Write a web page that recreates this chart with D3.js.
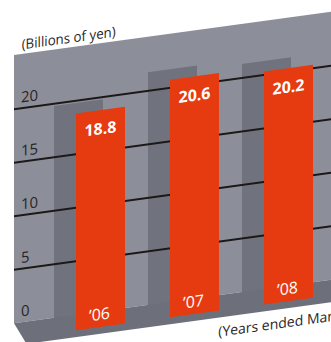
<!DOCTYPE html>
<html>
<head>
<meta charset="utf-8">
<script src="https://cdn.jsdelivr.net/npm/d3@7"></script>
<style>
  html, body { margin: 0; padding: 0; background: #fff; }
  svg { display: block; }
  text { font-family: "Open Sans", "Noto Sans", sans-serif; }
</style>
</head>
<body>
<script>
// Net sales by fiscal year
const years = ["\u201906", "\u201907", "\u201908"];
const sales = [18.8, 20.6, 20.2];
const gridTicks = [0, 5, 10, 15, 20];
const unitLabel = "(Billions of yen)";
const periodLabel = "(Years ended March 31)";

const W = 331, H = 342;

// The whole chart sits on a sheared plane rising to the right
const slope = 0.137;
const skewDeg = -Math.atan(slope) * 180 / Math.PI;

const colors = {
  wall: "#8c8f9a",
  shadow: "#70737e",
  floor: "#6d707b",
  bar: "#e63b10",
  grid: "#1c1818",
  text: "#2a2525"
};

const svg = d3.select("body").append("svg")
  .attr("width", W)
  .attr("height", H);

const g = svg.append("g").attr("transform", `skewY(${skewDeg})`);

// Back wall scale (gridlines) and front scale (bars, drawn nearer the viewer)
const wallLeft = 14, wallTop = 57, wallBase = 325.2;
const yWall = d3.scaleLinear().domain([0, 20]).range([wallBase, 111.2]);
const frontBase = 340.6;
const yFront = d3.scaleLinear().domain([0, 20]).range([frontBase, frontBase - 20 * 11.53]);
const x = d3.scaleBand().domain(years).range([76, 313]).paddingInner(0.479).paddingOuter(0);
const depth = { dx: -22, dy: -10.5 };
const floorFront = 347.5;

// back wall
g.append("rect")
  .attr("x", wallLeft).attr("y", wallTop)
  .attr("width", W + 80 - wallLeft).attr("height", wallBase - wallTop)
  .attr("fill", colors.wall);

// bar shadows cast on the wall
g.selectAll("rect.shadow")
  .data(sales)
  .join("rect")
  .attr("class", "shadow")
  .attr("x", (d, i) => x(years[i]) + depth.dx)
  .attr("y", d => yFront(d) + depth.dy)
  .attr("width", x.bandwidth())
  .attr("height", d => frontBase - yFront(d))
  .attr("fill", colors.shadow);

// floor
g.append("path")
  .attr("d", d3.line()([
    [wallLeft, wallBase],
    [W + 80, wallBase],
    [W + 80, floorFront],
    [wallLeft + 12.5, floorFront]
  ]) + "Z")
  .attr("fill", colors.floor);

// gridlines
g.selectAll("line.grid")
  .data(gridTicks.filter(t => t > 0))
  .join("line")
  .attr("class", "grid")
  .attr("x1", wallLeft).attr("x2", W + 80)
  .attr("y1", d => yWall(d)).attr("y2", d => yWall(d))
  .attr("stroke", colors.grid)
  .attr("stroke-width", 2);

// tick labels
g.selectAll("text.tick")
  .data(gridTicks)
  .join("text")
  .attr("class", "tick")
  .attr("x", 21)
  .attr("y", d => yWall(d) - 5.7)
  .attr("font-size", 15)
  .attr("fill", colors.text)
  .text(d => d);

// bars
g.selectAll("rect.bar")
  .data(sales)
  .join("rect")
  .attr("class", "bar")
  .attr("x", (d, i) => x(years[i]))
  .attr("y", d => yFront(d))
  .attr("width", x.bandwidth())
  .attr("height", d => frontBase - yFront(d))
  .attr("fill", colors.bar);

// value labels
g.selectAll("text.value")
  .data(sales)
  .join("text")
  .attr("class", "value")
  .attr("x", (d, i) => x(years[i]) + x.bandwidth() / 2)
  .attr("y", d => yFront(d) + 24.3)
  .attr("text-anchor", "middle")
  .attr("font-size", 16)
  .attr("font-weight", 700)
  .attr("fill", "#fff")
  .text(d => d.toFixed(1));

// year labels
g.selectAll("text.year")
  .data(years)
  .join("text")
  .attr("class", "year")
  .attr("x", d => x(d) + x.bandwidth() / 2 - 1)
  .attr("y", frontBase - 7)
  .attr("text-anchor", "middle")
  .attr("font-size", 16)
  .attr("fill", "#fff")
  .text(d => d);

// unit caption
g.append("text")
  .attr("x", 21.7)
  .attr("y", 52.4)
  .attr("font-size", 14)
  .attr("textLength", 94)
  .attr("lengthAdjust", "spacingAndGlyphs")
  .attr("fill", colors.text)
  .text(unitLabel);

// period caption
g.append("text")
  .attr("x", 218.3)
  .attr("y", 366.6)
  .attr("font-size", 14)
  .attr("fill", colors.text)
  .text(periodLabel);
</script>
</body>
</html>
